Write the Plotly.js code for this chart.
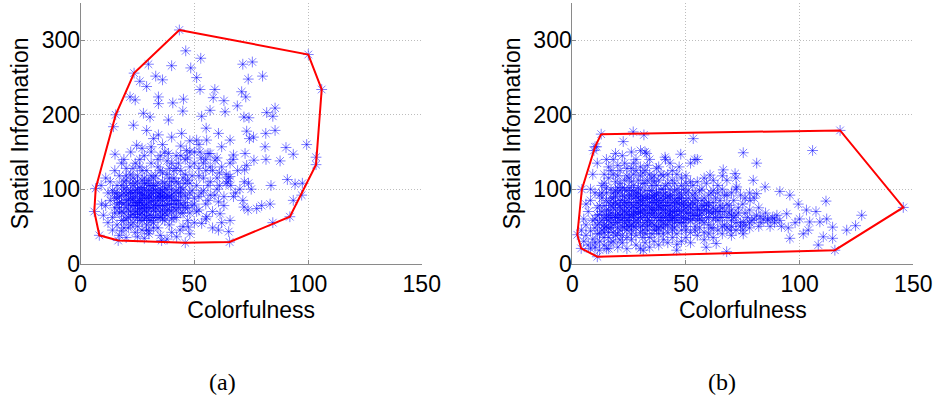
<!DOCTYPE html>
<html>
<head>
<meta charset="utf-8">
<script src="https://cdn.plot.ly/plotly-3.0.1.min.js"></script>
<style>
  html, body { margin: 0; padding: 0; background: #fff; }
  #chart { width: 937px; height: 400px; }
</style>
</head>
<body>
<div id="chart"></div>
<script>
// Panel (a): colorfulness vs spatial information, one point per image
const ptsA = [
  [43.4,314],[46.2,286],[52.8,276],[40,266],[29.8,268],[23.5,256],[48.4,263],[51,250],[33,252],[36,247],
  [26,245],[29,238],[52.5,234],[59,234],[71.3,268],[75.5,271],[73.7,248],[80,252],[70.8,231],[72.6,224],
  [58.3,223],[63,219],[68.9,212],[45.2,221],[40.5,216],[34.2,224],[34.2,215],[21.7,224],[24,220],[14.4,184],
  [15.4,200],[15.1,147],[44.9,205],[53.2,198],[56.9,206],[63.5,204],[71.8,197],[74,196],[81.8,203],[85.5,209],
  [84.5,198],[85.5,179],[81.4,175],[73,178],[76,170],[74.2,168],[81.1,157],[81.5,140],[87.7,138],[90.3,156],
  [93.5,147],[99.4,160],[103.5,133],[103.5,143],[90.9,113],[94.3,107],[97.5,108],[93.5,85],[97.2,92],[83.7,105],
  [83.3,80],[79.6,78],[84.5,55],[92,63],[73.8,108],[73,132],[72.1,126],[76.2,139],[65.7,117],[64.7,110],
  [67.2,90],[71.3,85],[71.8,76],[73.6,72],[77.4,74],[60.6,83],[61.3,67],[60.6,45],[65.7,58],[65.1,43],
  [65.5,29],[46,28],[55.4,63],[53.2,54],[47.4,49],[43.7,45],[42.2,36],[35.6,31],[16.5,31],[8.2,38],
  [6,70],[6.6,101],[9.2,80],[44.4,175],[34.2,173],[29,179],[23.2,186],[27.6,202],[30.5,197],[38.6,193],
  [24.6,159],[31,157],[38.6,148],[46.6,152],[52.5,150],[56.9,148],[62,157],[65.7,166],[60.6,175],[55.2,182],
  [51,166],[55.4,166],[59.1,139],[65.7,135],[67.2,146],[72.3,148],[100.1,281],[106,234],
  [12,95],[13,110],[14,62],[15,88],[15,75],[16,105],[16,52],[17,68],[17,118],[18,92],
  [18,44],[19,80],[19,100],[20,60],[20,112],[21,72],[21,86],[21,48],[22,98],[22,64],
  [22,120],[23,78],[23,55],[23,105],[24,90],[24,70],[24,42],[24,135],[25,82],[25,62],
  [25,110],[25,50],[26,95],[26,74],[26,140],[26,58],[27,85],[27,68],[27,102],[27,45],
  [28,78],[28,115],[28,92],[28,60],[29,70],[29,125],[29,52],[29,88],[30,98],[30,75],
  [30,112],[30,40],[31,65],[31,84],[31,135],[32,105],[32,72],[32,55],[32,95],[33,118],
  [33,80],[33,62],[34,90],[34,48],[34,140],[35,100],[35,70],[35,125],[36,85],[36,60],
  [36,110],[37,78],[37,150],[37,95],[38,65],[38,120],[38,88],[39,105],[39,72],[39,52],
  [40,92],[40,135],[40,80],[41,115],[41,62],[42,98],[42,85],[42,145],[43,75],[43,108],
  [44,90],[44,125],[45,68],[45,100],[46,82],[46,140],[47,112],[47,58],[48,95],[48,130],
  [49,78],[49,118],[50,88],[50,150],[51,105],[52,72],[52,128],[53,95],[54,115],[55,80],
  [55,140],[56,105],[57,92],[58,125],[58,70],[60,100],[60,115],[62,130],[63,90],[64,120],
  [66,105],[67,140],[69,125],[70,100],[52,160],[48,165],[44,158],[40,170],[36,160],[32,168],
  [28,145],[26,130],[23,128],[20,128],[18,135],[11,78],[10,65],[12,55],[14,45],[17,38],
  [20,35],[25,36],[30,44],[35,38],[40,42],[45,50],[50,55],[55,60],[58,48],[62,55],
  [48,40],[38,33],[28,34],[13,85],[9,105],[11,115],[15,125],[19,140],[22,150],[27,155],
  [31,150],[35,145],[42,128],[46,120],[54,135],[56,148],[60,142],[64,108],[68,95],[72,110],
  [75,100],[18,70],[19,58],[20,85],[21,95],[22,78],[23,66],[24,82],[24,98],[25,72],
  [26,88],[26,66],[27,58],[27,92],[28,72],[28,100],[29,80],[29,62],[30,88],[30,58],
  [31,95],[31,75],[32,85],[33,70],[33,98],[34,78],[34,108],[35,62],[35,88],[36,72],
  [36,98],[37,68],[37,108],[38,80],[39,90],[40,70],[40,110],[41,85],[42,72],[43,95],
  [44,80],[45,115],[46,92],[47,75],[48,108],[17,82],[16,95],[19,110],[22,108],[25,118],
  [29,108],[32,115],[36,122],[39,128],[43,135],[47,142],[50,135],[53,142],[57,130],[61,122],[65,115],
  [14,98],[15,68],[16,80],[17,90],[18,105],[18,58],[19,48],[20,75],[20,92],[21,62],
  [22,88],[22,52],[23,95],[23,85],[24,62],[24,108],[25,78],[25,95],[26,82],[26,102],
  [27,75],[27,112],[28,65],[28,88],[29,98],[29,45],[30,65],[30,92],[31,58],[31,105],
  [32,78],[32,48],[33,88],[33,105],[34,62],[34,95],[35,78],[35,92],[36,65],[36,90],
  [37,58],[37,88],[38,72],[38,100],[39,80],[39,115],[40,60],[40,100],[41,75],[41,95],
  [42,62],[42,110],[43,85],[44,68],[44,102],[45,78],[46,108],[47,88],[48,68],[49,98],
  [50,80],[51,70],[52,90],[54,98],[56,85],[57,110],[59,92],[61,105],[63,78],[20,118],
  [23,115],[27,125],[31,118],[34,130],[38,138],[41,125],[44,145],[48,150],[52,118],[55,125],
  [15,95],[16,88],[17,75],[18,82],[19,95],[19,68],[20,102],[21,80],[22,70],[22,95],
  [23,88],[24,78],[25,100],[25,68],[26,85],[27,95],[27,80],[28,108],[29,75],[30,82],
  [30,105],[31,90],[32,62],[32,100],[33,75],[34,85],[35,95],[36,78],[37,102],[38,92],
  [40,88],[42,80],[44,95],[46,75]
];
// Convex hull of panel (a), closed
const hullAX = [43.4,100.1,106,103.5,92,65.5,46,16.5,8.2,6,6.6,15.4,23.5,43.4];
const hullAY = [314,281,234,133,63,29,28,31,38,70,101,200,256,314];

// Panel (b)
const ptsB = [
  [12.7,174],[117.8,179],[145.6,75.5],[115.5,18],[11,9.2],[3.9,20.4],[2.2,38.8],[4.2,99.7],[10,157],
  [26.8,177],[31.5,173],[53.2,168],[22.4,164],[10.7,157],[9.5,152],[75.2,149],[105.7,152],[81.1,135],
  [32.7,148],[47.7,147],[53.9,140],[40.8,143],[111.6,84],[79.6,112],[84.8,103],[91.3,97],[95.7,92],
  [99.4,80],[103,72],[107.2,70],[120.7,45],[124.6,51],[127.3,65],[114.5,49],[114.5,34],[110.4,36],
  [108.2,25],[103.8,45],[101.6,40],[95.7,34],[104.4,56],[108.9,56],[111.9,60],[91.3,58],[94.3,67],
  [88.9,60],[86,60],[82.6,63],[75.2,56],[69.4,45],[67.9,16],[58.9,22],[63.3,27],[75.2,40],[78.2,85],
  [81.1,94],[72.3,103],[68,112],[71.6,121],[66.4,126],[60.6,119],[45.9,18],[31.2,18],[15.1,20],
  [4,45],[5,30],[5,60],[6,38],[6,52],[7,70],[7,25],[8,44],[8,85],[9,33],[9,58],[10,48],[10,95],
  [10,28],[11,65],[11,40],[12,78],[12,55],[12,30],[13,105],[13,45],[13,88],[14,62],[14,35],[14,120],
  [15,72],[15,50],[15,95],[16,42],[16,82],[16,58],[16,130],[17,68],[17,28],[17,100],[18,52],[18,88],
  [18,75],[18,140],[19,62],[19,38],[19,110],[20,80],[20,48],[20,95],[20,68],[21,58],[21,125],[21,85],
  [21,32],[22,72],[22,102],[22,50],[23,90],[23,62],[23,78],[23,135],[24,45],[24,68],[24,98],[25,82],
  [25,58],[25,115],[25,72],[26,92],[26,40],[26,65],[26,128],[27,78],[27,55],[27,105],[27,88],[28,68],
  [28,48],[28,95],[28,140],[29,75],[29,60],[29,112],[30,85],[30,50],[30,70],[30,100],[31,62],[31,90],
  [31,35],[31,122],[32,78],[32,55],[32,108],[33,68],[33,88],[33,45],[33,132],[34,75],[34,98],[34,58],
  [35,82],[35,65],[35,115],[35,40],[36,92],[36,72],[36,52],[37,85],[37,62],[37,105],[37,128],[38,75],
  [38,48],[38,95],[39,68],[39,82],[39,58],[40,100],[40,72],[40,118],[40,40],[41,88],[41,62],[42,78],
  [42,52],[42,108],[43,68],[43,92],[43,135],[44,82],[44,60],[45,75],[45,98],[45,48],[46,88],[46,65],
  [46,120],[47,80],[47,55],[48,92],[48,70],[48,105],[49,62],[49,82],[50,75],[50,95],[50,45],[51,68],
  [51,88],[52,58],[52,80],[52,110],[53,72],[53,92],[54,65],[54,50],[55,85],[55,75],[56,60],[56,98],
  [57,78],[57,68],[58,88],[58,55],[59,72],[60,82],[60,62],[61,95],[61,48],[62,75],[62,68],[63,88],
  [64,58],[64,105],[65,78],[65,70],[66,62],[67,92],[67,52],[68,80],[69,68],[70,72],[70,58],[71,85],
  [72,65],[73,75],[74,55],[75,80],[76,68],[77,62],[78,72],[79,58],[80,88],[81,65],[82,75],[84,60],
  [85,68],[86,58],[88,62],[89,55],[90,65],
  [13,70],[14,52],[15,85],[16,65],[17,78],[17,48],[18,62],[19,90],[19,72],[20,55],[21,75],[21,98],
  [22,60],[22,85],[23,70],[23,48],[24,82],[24,58],[25,92],[25,65],[26,75],[26,52],[27,62],[27,98],
  [28,82],[28,58],[29,88],[29,68],[30,62],[30,78],[31,72],[31,52],[32,88],[32,65],[33,78],[33,58],
  [34,68],[34,88],[35,55],[35,72],[36,62],[36,82],[37,72],[37,50],[38,65],[38,85],[39,75],[39,50],
  [40,62],[40,85],[41,72],[41,52],[42,65],[42,90],[43,58],[43,78],[44,70],[44,50],[45,62],[45,85],
  [46,72],[47,65],[48,55],[48,80],[49,72],[50,60],[51,78],[52,68],[53,60],[54,80],[55,65],[56,72],
  [57,58],[58,78],[59,62],[60,70],[62,60],[63,72],[65,62],[66,75],[68,62],[70,65],
  [8,20],[10,22],[12,18],[14,25],[16,20],[18,30],[20,22],[22,28],[24,20],[26,32],[28,25],[30,20],
  [32,28],[34,22],[36,30],[38,25],[40,32],[42,28],[44,35],[46,26],[48,30],[50,35],[52,28],[55,38],
  [58,32],[60,40],[62,35],[66,40],[70,38],[72,45],[75,45],[78,48],[82,50],
  [15,140],[18,120],[20,132],[22,145],[24,118],[27,135],[30,130],[32,150],[34,140],[36,118],[38,130],
  [41,140],[44,125],[47,130],[50,118],[52,135],[55,140],[58,115],[62,112],[66,118],[72,115],[19,148],
  [26,150],[30,152],
  [6,80],[8,100],[9,120],[11,135],[12,92],[14,108],[16,115],[17,125],[19,98],[20,118],[21,108],
  [23,112],[24,128],[25,102],[26,110],[27,120],[28,125],[29,95],[30,118],[31,108],[32,125],[33,112],
  [34,120],[35,105],[36,110],[37,95],[38,112],[39,120],[40,92],[41,105],[42,120],[43,100],[44,112],
  [45,108],[46,100],[47,95],[48,115],[49,100],[50,108],[51,98],[53,105],[54,95],[55,110],[57,100],
  [59,108],[60,92],[62,98],[64,95],[66,100],[68,92],[70,95],[72,100],[74,92],[76,88],[78,95],
  [12,40],[14,48],[16,35],[18,42],[20,40],[22,38],[24,35],[26,45],[28,38],[30,42],[32,40],[34,35],
  [36,45],[38,40],[40,48],[42,42],[44,45],[46,40],[48,45],[50,50],[52,42],[54,45],[56,48],[58,42],
  [60,52],[62,48],[64,45],[66,50],[68,48],[70,50],[72,55],[74,50],[76,52],[78,55],[80,60],[83,55],
  [87,50],[92,50],[95,48],[98,55],[100,60],
  [15,60],[17,55],[19,65],[21,65],[23,55],[25,50],[27,70],[29,55],[31,80],[33,50],[35,90],[37,80],
  [39,62],[41,78],[43,65],[45,55],[47,88],[49,55],[51,60],[53,82],[55,58],[57,85],[59,80],[61,68],
  [63,62],[65,85],[67,70],[69,78],[71,62],[73,68],
  [10,60],[11,75],[11,52],[12,66],[13,58],[13,95],[14,78],[14,42],[15,65],[15,102],[16,72],[16,48],
  [17,88],[17,62],[18,80],[18,95],[19,55],[19,82],[20,62],[20,102],[21,78],[21,45],[22,92],[22,66],
  [23,82],[23,100],[24,75],[24,52],[25,88],[25,62],[26,80],[26,98],[27,66],[27,50],[28,90],[28,75],
  [29,82],[29,102],[30,68],[30,92],[31,85],[31,45],[32,72],[32,98],[33,62],[33,92],[34,82],[34,52],
  [35,75],[35,98],[36,68],[36,88],[37,92],[37,45],[38,58],[38,78],[39,88],[39,100],[40,78],[40,55],
  [41,68],[41,95],[42,82],[42,58],[43,88],[43,72],[44,92],[44,62],[45,80],[45,70],[46,58],[46,82],
  [47,72],[48,62],[48,88],[49,78],[50,68],[50,85],[52,75],[53,65],[54,88],[55,72],[56,65],[58,72],
  [60,78],[62,82],[64,70]
];
// Convex hull of panel (b), closed
const hullBX = [12.7,117.8,145.6,115.5,11,3.9,2.2,4.2,10,12.7];
const hullBY = [174,179,75.5,18,9.2,20.4,38.8,99.7,157,174];

const xTicks = [0, 50, 100, 150];
const yTicks = [0, 100, 200, 300];
const xLabel = 'Colorfulness';
const yLabel = 'Spatial Information';
const captions = ['(a)', '(b)'];

const starMarker = {
  symbol: 'asterisk-open',
  size: 9,
  color: 'rgba(0,0,255,0.5)',
  line: { width: 1, color: 'rgba(0,0,255,0.5)' }
};

const traces = [
  { x: ptsA.map(p => p[0]), y: ptsA.map(p => p[1]), mode: 'markers', type: 'scatter',
    marker: starMarker, xaxis: 'x', yaxis: 'y', hoverinfo: 'x+y' },
  { x: hullAX, y: hullAY, mode: 'lines', type: 'scatter',
    line: { color: '#ff0000', width: 2 }, xaxis: 'x', yaxis: 'y' },
  { x: ptsB.map(p => p[0]), y: ptsB.map(p => p[1]), mode: 'markers', type: 'scatter',
    marker: starMarker, xaxis: 'x2', yaxis: 'y2', hoverinfo: 'x+y' },
  { x: hullBX, y: hullBY, mode: 'lines', type: 'scatter',
    line: { color: '#ff0000', width: 2 }, xaxis: 'x2', yaxis: 'y2' }
];

const tickFont = { family: 'Liberation Sans, Arial, sans-serif', size: 23, color: '#000' };
const titleFont = { family: 'Liberation Sans, Arial, sans-serif', size: 23, color: '#000' };

function xAxis(domain, anchor) {
  return {
    domain: domain, anchor: anchor, range: [0, 150], tickvals: xTicks, ticktext: xTicks.map(String),
    showline: true, linecolor: '#8a8a8a', linewidth: 1, mirror: false,
    ticks: 'inside', ticklen: 4, tickcolor: '#8a8a8a',
    showgrid: true, gridcolor: '#bdbdbd', griddash: '1px,2px', gridwidth: 1,
    zeroline: false, tickfont: tickFont,
    title: { text: xLabel, font: titleFont, standoff: 4 }
  };
}
function yAxis(domain, anchor) {
  return {
    domain: domain, anchor: anchor, range: [0, 350], tickvals: yTicks, ticktext: yTicks.map(String),
    showline: true, linecolor: '#8a8a8a', linewidth: 1, mirror: false,
    ticks: 'inside', ticklen: 4, tickcolor: '#8a8a8a', ticklabelstandoff: -5,
    showgrid: true, gridcolor: '#bdbdbd', griddash: '1px,2px', gridwidth: 1,
    zeroline: false, tickfont: tickFont,
    title: { text: yLabel, font: titleFont, standoff: 6 }
  };
}

const layout = {
  width: 937, height: 400,
  margin: { l: 0, r: 0, t: 0, b: 0 },
  paper_bgcolor: '#fff', plot_bgcolor: '#fff',
  showlegend: false,
  xaxis: xAxis([0.0861, 0.4501], 'y'),
  yaxis: yAxis([0.341, 0.992], 'x'),
  xaxis2: xAxis([0.6108, 0.9747], 'y2'),
  yaxis2: yAxis([0.341, 0.992], 'x2'),
  annotations: [
    { text: captions[0], xref: 'paper', yref: 'paper', x: 222 / 937, y: 1 - 382 / 400,
      showarrow: false, xanchor: 'center', yanchor: 'middle',
      font: { family: 'Liberation Serif, DejaVu Serif, serif', size: 24, color: '#000' } },
    { text: captions[1], xref: 'paper', yref: 'paper', x: 722 / 937, y: 1 - 382 / 400,
      showarrow: false, xanchor: 'center', yanchor: 'middle',
      font: { family: 'Liberation Serif, DejaVu Serif, serif', size: 24, color: '#000' } }
  ]
};

Plotly.newPlot('chart', traces, layout, { staticPlot: true, displayModeBar: false });
</script>
</body>
</html>
